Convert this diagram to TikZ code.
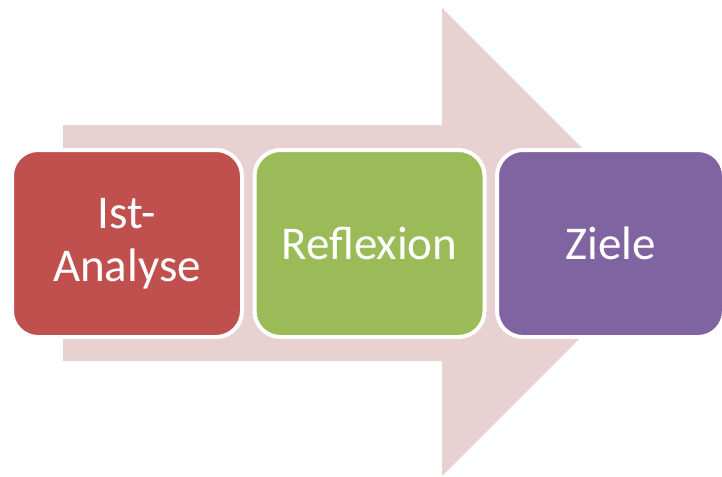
\documentclass[tikz,border=0pt]{standalone}
\usepackage{fontspec}
\usepackage{tikz}
\usetikzlibrary{positioning}
\newfontfamily\boxfont{Carlito}
\definecolor{arrowpink}{RGB}{232, 209, 209}
\definecolor{istred}{RGB}{192, 80, 77}
\definecolor{reflgreen}{RGB}{155, 187, 89}
\definecolor{zielpurple}{RGB}{128, 100, 162}
\tikzset{
	stepbox/.style={draw=white, line width=4pt, rounded corners=26pt,
		minimum width=230pt, minimum height=187pt, inner sep=0pt, outer sep=0pt,
		text=white, align=center, font=\boxfont\fontsize{47}{53}\selectfont}
}

\begin{document}
\begin{tikzpicture}[x=1pt, y=-1pt]
			\useasboundingbox (0,0) rectangle (722,476);
			
			% big arrow behind the boxes
			\fill[arrowpink] (63,125) -- (442,125) -- (442,8) -- (676,242)
				-- (442,476) -- (442,361) -- (63,361) -- cycle;
			
			% three steps
			\node[stepbox, fill=istred] (ist) at (127,243.5) {Ist-\\Analyse};
			\node[stepbox, fill=reflgreen, right=12.5pt of ist] (refl) {Reflexion};
			\node[stepbox, fill=zielpurple, minimum width=227pt, right=12.5pt of refl] (ziel) {Ziele};
			
		\end{tikzpicture}
\end{document}
